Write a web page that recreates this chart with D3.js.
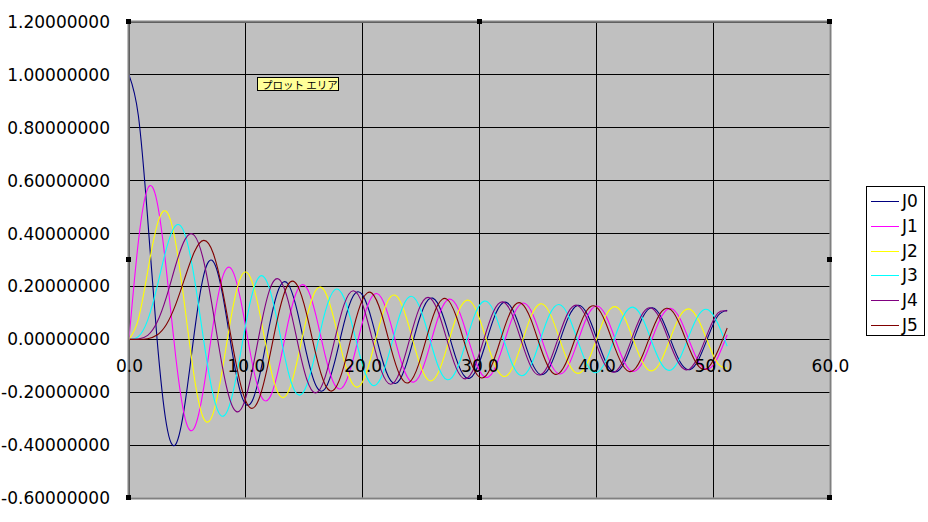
<!DOCTYPE html>
<html>
<head>
<meta charset="utf-8">
<script src="https://cdn.jsdelivr.net/npm/d3@7"></script>
<style>
  html, body { margin: 0; padding: 0; background: #fff; }
  svg { display: block; }
</style>
</head>
<body>
<svg id="chart" width="928" height="522"></svg>
<script>
// ---- data ----
const xValues = [0,0.8,1.6,2.4,3.2,4.0,4.8,5.6,6.4,7.2,8.0,8.8,9.6,10.4,11.2,12.0,12.8,13.6,14.4,15.2,16.0,16.8,17.6,18.4,19.2,20.0,20.8,21.6,22.4,23.2,24.0,24.8,25.6,26.4,27.2,28.0,28.8,29.6,30.4,31.2,32.0,32.8,33.6,34.4,35.2,36.0,36.8,37.6,38.4,39.2,40.0,40.8,41.6,42.4,43.2,44.0,44.8,45.6,46.4,47.2,48.0,48.8,49.6,50.4,51.2];

const J0 = [1,0.8463,0.4554,0.0025,-0.3202,-0.3971,-0.2404,0.0270,0.2433,0.2951,0.1717,-0.0392,-0.2090,-0.2434,-0.1330,0.0477,0.1887,0.2101,0.1065,-0.0544,-0.1749,-0.1860,-0.0863,0.0601,0.1646,0.1670,0.0700,-0.0650,-0.1564,-0.1514,-0.0562,0.0693,0.1495,0.1379,0.0443,-0.0732,-0.1435,-0.1261,-0.0336,0.0765,0.1381,0.1154,0.0241,-0.0795,-0.1330,-0.1056,-0.0154,0.0821,0.1283,0.0964,0.0074,-0.0844,-0.1237,-0.0879,0.0000,0.0863,0.1192,0.0798,-0.0069,-0.0879,-0.1147,-0.0721,0.0133,0.0892,0.1103];

const J1 = [0,0.3688,0.5699,0.5202,0.2613,-0.0660,-0.2985,-0.3343,-0.1817,0.0543,0.2346,0.2641,0.1395,-0.0555,-0.2039,-0.2234,-0.1114,0.0590,0.1850,0.1955,0.0904,-0.0629,-0.1719,-0.1744,-0.0735,0.0668,0.1620,0.1574,0.0594,-0.0705,-0.1540,-0.1431,-0.0471,0.0739,0.1473,0.1308,0.0363,-0.0770,-0.1413,-0.1194,-0.0266,0.0798,0.1359,0.1092,0.0177,-0.0823,-0.1308,-0.0998,-0.0096,0.0845,0.1260,0.0911,0.0021,-0.0864,-0.1214,-0.0828,0.0048,0.0880,0.1169,0.0749,-0.0113,-0.0894,-0.1124,-0.0674,0.0174];

const J2 = [0,0.0758,0.2570,0.4310,0.4835,0.3641,0.1161,-0.1464,-0.3001,-0.2800,-0.1130,0.0993,0.2380,0.2327,0.0966,-0.0849,-0.2061,-0.2015,-0.0808,0.0802,0.1862,0.1785,0.0668,-0.0791,-0.1723,-0.1603,-0.0544,0.0796,0.1617,0.1453,0.0434,-0.0809,-0.1532,-0.1323,-0.0334,0.0825,0.1460,0.1209,0.0243,-0.0842,-0.1397,-0.1105,-0.0160,0.0859,0.1340,0.1010,0.0083,-0.0874,-0.1288,-0.0921,-0.0011,0.0888,0.1238,0.0838,-0.0056,-0.0901,-0.1189,-0.0759,0.0119,0.0911,0.1142,0.0684,-0.0178,-0.0919,-0.1096];

const J3 = [0,0.0102,0.0725,0.1981,0.3431,0.4302,0.3952,0.2298,-0.0059,-0.2099,-0.2911,-0.2190,-0.0403,0.1450,0.2384,0.1951,0.0470,-0.1182,-0.2075,-0.1745,-0.0438,0.1054,0.1871,0.1572,0.0376,-0.0989,-0.1725,-0.1427,-0.0305,0.0956,0.1612,0.1300,0.0232,-0.0940,-0.1522,-0.1190,-0.0160,0.0934,0.1445,0.1086,0.0091,-0.0933,-0.1378,-0.0992,-0.0025,0.0936,0.1317,0.0905,-0.0038,-0.0939,-0.1261,-0.0824,0.0098,0.0943,0.1209,0.0746,-0.0155,-0.0947,-0.1158,-0.0672,0.0208,0.0950,0.1109,0.0601,-0.0259];

const J4 = [0,0.0010,0.0150,0.0643,0.1597,0.2811,0.3780,0.3926,0.2946,0.1051,-0.1054,-0.2485,-0.2633,-0.1491,0.0311,0.1825,0.2282,0.1493,-0.0057,-0.1490,-0.2026,-0.1408,-0.0030,0.1303,0.1840,0.1307,0.0047,-0.1192,-0.1699,-0.1206,-0.0031,0.1123,0.1586,0.1110,-0.0001,-0.1080,-0.1494,-0.1019,0.0042,0.1051,0.1415,0.0934,-0.0086,-0.1032,-0.1345,-0.0854,0.0132,0.1019,0.1282,0.0778,-0.0179,-0.1010,-0.1223,-0.0705,0.0224,0.1002,0.1169,0.0635,-0.0269,-0.0996,-0.1116,-0.0567,0.0312,0.0991,0.1066];

const J5 = [0,0.0001,0.0025,0.0162,0.0562,0.1321,0.2347,0.3310,0.3741,0.3266,0.1858,-0.0070,-0.1790,-0.2596,-0.2161,-0.0735,0.0956,0.2060,0.2043,0.0960,-0.0575,-0.1725,-0.1885,-0.1006,0.0390,0.1512,0.1743,0.0985,-0.0302,-0.1371,-0.1623,-0.0938,0.0264,0.1276,0.1521,0.0881,-0.0255,-0.1209,-0.1434,-0.0817,0.0262,0.1161,0.1357,0.0753,-0.0281,-0.1125,-0.1289,-0.0689,0.0305,0.1098,0.1226,0.0626,-0.0333,-0.1076,-0.1167,-0.0564,0.0363,0.1058,0.1112,0.0503,-0.0395,-0.1043,-0.1059,-0.0444,0.0426];

const seriesNames = ["J0","J1","J2","J3","J4","J5"];
const seriesColors = ["#000080","#FF00FF","#FFFF00","#00FFFF","#800080","#800000"];
const xTicks = [0,10,20,30,40,50,60];
const yTicks = [-0.6,-0.4,-0.2,0,0.2,0.4,0.6,0.8,1.0,1.2];
const tooltipText = "プロット エリア";

// ---- layout ----
const svg = d3.select("#chart");
const X0 = 129, X1 = 830, Y0 = 22, Y1 = 498;
const x = d3.scaleLinear().domain([0, 60]).range([X0, X1]);
const y = d3.scaleLinear().domain([-0.6, 1.2]).range([Y1, Y0]);
const font = "'DejaVu Sans', sans-serif";
const crisp = v => Math.round(v) + 0.5;

// plot area background
svg.append("rect").attr("x", X0).attr("y", Y0).attr("width", X1 - X0).attr("height", Y1 - Y0)
  .attr("fill", "#C0C0C0");

// gridlines
const grid = svg.append("g");
grid.selectAll("line.h").data(yTicks).join("line")
  .attr("x1", X0).attr("x2", X1)
  .attr("y1", d => crisp(y(d) - 0.5)).attr("y2", d => crisp(y(d) - 0.5))
  .attr("stroke", "#000").attr("stroke-width", 1);
grid.selectAll("line.v").data(xTicks).join("line")
  .attr("y1", Y0).attr("y2", Y1)
  .attr("x1", d => crisp(x(d) - 0.5)).attr("x2", d => crisp(x(d) - 0.5))
  .attr("stroke", "#000").attr("stroke-width", 1);

// series
const line = d3.line().x(d => x(d[0])).y(d => y(d[1])).curve(d3.curveNatural);
const allSeries = [J0, J1, J2, J3, J4, J5];
const plot = svg.append("g");
allSeries.forEach((vals, i) => {
  const pts = xValues.map((xv, k) => [xv, vals[k]]);
  plot.append("path").datum(pts).attr("d", line)
    .attr("fill", "none").attr("stroke", seriesColors[i]).attr("stroke-width", 1.1);
});

// selection border (checkered)
svg.append("rect").attr("x", X0 - 0.5).attr("y", Y0 - 0.5).attr("width", X1 - X0 + 1).attr("height", Y1 - Y0 + 1)
  .attr("fill", "none").attr("stroke", "#fff").attr("stroke-width", 2);
svg.append("rect").attr("x", X0 - 0.5).attr("y", Y0 - 0.5).attr("width", X1 - X0 + 1).attr("height", Y1 - Y0 + 1)
  .attr("fill", "none").attr("stroke", "#000").attr("stroke-width", 2).attr("stroke-dasharray", "1 1");

// handles
const hx = [X0, (X0 + X1) / 2, X1];
const hy = [Y0, (Y0 + Y1) / 2, Y1];
const handles = [];
hx.forEach((a, i) => hy.forEach((b, j) => { if (!(i === 1 && j === 1)) handles.push([a, b]); }));
svg.selectAll("rect.handle").data(handles).join("rect")
  .attr("x", d => Math.round(d[0]) - 3).attr("y", d => Math.round(d[1]) - 3)
  .attr("width", 5).attr("height", 5).attr("fill", "#000");

// y axis labels
const yAxis = d3.axisLeft(y).tickValues(yTicks).tickFormat(d => d.toFixed(8)).tickSize(0).tickPadding(19);
const gy = svg.append("g").attr("transform", `translate(${X0},0)`).call(yAxis);
gy.select(".domain").remove();
gy.selectAll("text").attr("font-family", font).attr("font-size", 17).attr("fill", "#000");

// x axis labels (axis crosses at y = 0)
const xAxis = d3.axisBottom(x).tickValues(xTicks).tickFormat(d => d.toFixed(1)).tickSize(0).tickPadding(21);
const gx = svg.append("g").attr("transform", `translate(0,${y(0)})`).call(xAxis);
gx.select(".domain").remove();
gx.selectAll("text").attr("font-family", font).attr("font-size", 17).attr("fill", "#000");

// tooltip
svg.append("rect").attr("x", 257.5).attr("y", 77.5).attr("width", 81).attr("height", 13)
  .attr("fill", "#FFFF99").attr("stroke", "#000").attr("stroke-width", 1);
svg.append("text").attr("x", 262).attr("y", 88.5).text(tooltipText)
  .attr("font-family", "'Noto Sans CJK JP', sans-serif").attr("font-size", 10.5).attr("fill", "#000");

// legend
const lg = svg.append("g");
lg.append("rect").attr("x", 866.5).attr("y", 186.5).attr("width", 58).attr("height", 149)
  .attr("fill", "#fff").attr("stroke", "#000").attr("stroke-width", 1);
seriesNames.forEach((name, i) => {
  const cy = 201 + i * 24.8;
  lg.append("line").attr("x1", 871).attr("x2", 899).attr("y1", Math.round(cy) + 0.5).attr("y2", Math.round(cy) + 0.5)
    .attr("stroke", seriesColors[i]).attr("stroke-width", 1);
  lg.append("text").attr("x", 902).attr("y", cy).attr("dy", "0.35em").text(name)
    .attr("font-family", font).attr("font-size", 17).attr("fill", "#000");
});
</script>
</body>
</html>
